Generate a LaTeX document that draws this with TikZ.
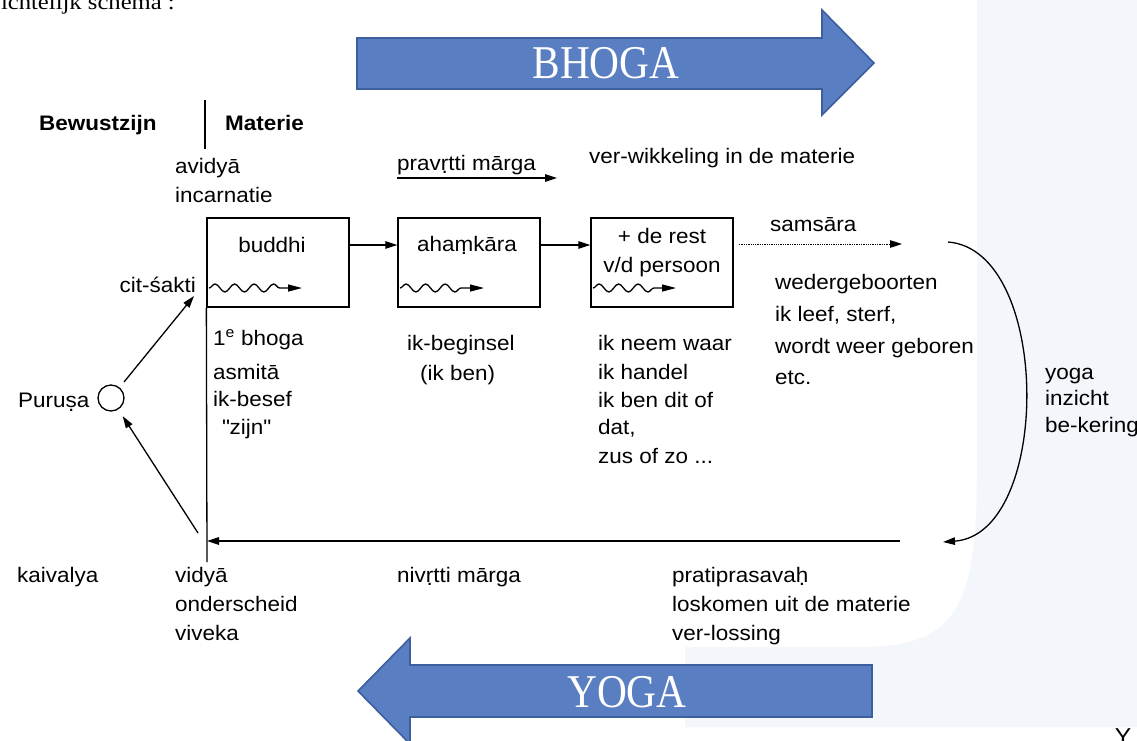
\documentclass[tikz,border=0pt]{standalone}
\usepackage{fontspec}
\setmainfont{Liberation Sans}[FakeStretch=1.07]
\newfontfamily\bigserif{Liberation Serif}[FakeStretch=0.88]
\newfontfamily\titleserif{Liberation Serif}[FakeStretch=1.12]
\usetikzlibrary{arrows.meta,decorations.pathmorphing}
\definecolor{bgblue}{HTML}{F3F6FA}
\definecolor{fatblue}{HTML}{5A7EC2}
\definecolor{fatedge}{HTML}{3D5F9E}
\makeatletter
\newcommand\db[1]{\leavevmode\vtop{\baselineskip\z@skip\lineskip1.6pt\lineskiplimit\z@\ialign{##\crcr#1\crcr\hidewidth.\hidewidth\crcr}}}
\makeatother
\newcommand\sq{{\XeTeXglyph\XeTeXglyphindex "quotedbl" \relax}}
\begin{document}
\begin{tikzpicture}[x=1pt,y=-1pt,
  txt/.style={inner sep=0pt, anchor=base west, font=\fontsize{21}{29}\selectfont},
  ctxt/.style={txt, anchor=base},
  btxt/.style={txt, font=\fontsize{21}{29}\selectfont\bfseries},
  ln/.style={line width=1.3pt},
  arr/.style={ln, -{Triangle[length=12pt,width=7.5pt]}},
  box/.style={draw, ln, minimum width=142pt, minimum height=89pt, inner sep=0pt},
  wavy/.style={ln, -{Triangle[length=14pt,width=7pt]}, decorate, decoration={snake, amplitude=4pt, segment length=19.5pt, post length=14pt}},
  fat/.style={fill=fatblue, draw=fatedge, line width=1.6pt},
  bigtxt/.style={inner sep=0pt, text=white, font=\bigserif\fontsize{47}{47}\selectfont}]
\useasboundingbox (0,0) rectangle (1137,740);
\fill[white] (0,0) rectangle (1137,740);
\fill[bgblue] (977,0) -- (977,470) .. controls (977,610) and (955,647) .. (860,647) -- (685,647) -- (685,727) -- (1137,727) -- (1137,0) -- cycle;

% title (cut off at top)
\node[inner sep=0pt, anchor=base east, font=\titleserif\fontsize{22}{22}\selectfont] (title) at (175,9) {ichtelijk schema :};

% fat arrows
\filldraw[fat] (357,38) -- (822,38) -- (822,10) -- (874,63) -- (822,115) -- (822,89) -- (357,89) -- cycle;
\node[bigtxt] (bhoga) at (606,63.5) {BHOGA};
\filldraw[fat] (872,665) -- (410,665) -- (410,638) -- (358,691) -- (410,744) -- (410,717) -- (872,717) -- cycle;
\node[bigtxt] (yogaarrow) at (627,692) {YOGA};

% header
\node[btxt] (bew) at (39,130) {Bewustzijn};
\node[btxt] (mat) at (225,130) {Materie};
\coordinate (sepA) at (205,100);
\coordinate (sepB) at (205,149);
\draw[ln] (sepA) -- (sepB);

\node[txt] (avid) at (175,173) {avidyā};
\node[txt] (inc) at (175,202) {incarnatie};
\node[txt] (prav) at (397,170) {prav\db{r}tti mārga};
\coordinate (pA) at (397,178);
\coordinate (pB) at (557,178);
\draw[arr] (pA) -- (pB);
\node[txt] (verw) at (589,163) {ver-wikkeling in de materie};

% boxes
\node[box] (b1) at (278,262.5) {};
\node[box] (b2) at (469,262.5) {};
\node[box] (b3) at (662,262.5) {};
\node[ctxt] (t1) at (272,252) {buddhi};
\node[ctxt] (t2) at (467,251) {aha\db{m}kāra};
\node[ctxt] (t3a) at (662,243) {+ de rest};
\node[ctxt] (t3b) at (662,272) {v/d persoon};
\draw[arr] ([yshift=17.5pt]b1.east) -- ([yshift=17.5pt]b2.west);
\draw[arr] ([yshift=17.5pt]b2.east) -- ([yshift=17.5pt]b3.west);

\coordinate (w1a) at (209,288); \coordinate (w1b) at (302,288);
\coordinate (w2a) at (400,288); \coordinate (w2b) at (484,288);
\coordinate (w3a) at (593,288); \coordinate (w3b) at (676,288);
\draw[wavy] (w1a) -- (w1b);
\draw[wavy] (w2a) -- (w2b);
\draw[wavy] (w3a) -- (w3b);

% samsara
\coordinate (sA) at (739,244);
\coordinate (sB) at (902,244);
\draw[arr, densely dotted, line width=1pt] (sA) -- (sB);
\node[txt] (sams) at (770,231) {samsāra};
\node[txt] (weder) at (775,289) {wedergeboorten};
\node[txt] (leef1) at (775,321) {ik leef, sterf,};
\node[txt] (leef2) at (775,353) {wordt weer geboren};
\node[txt] (leef3) at (775,384) {etc.};

% curve back
\coordinate (cA) at (948,242);
\coordinate (cB) at (943,542);
\draw[arr] (cA) .. controls (1052,250) and (1052,534) .. (cB);
\node[txt] (yg1) at (1045,379) {yoga};
\node[txt] (yg2) at (1045,405) {inzicht};
\node[txt] (yg3) at (1045,432) {be-kering};

% bottom line
\coordinate (bR) at (900,541);
\coordinate (bL) at (207,541);
\draw[arr] (bR) -- (bL);
\coordinate (vB) at (207,562);
\draw[ln] (b1.south west) -- (vB);

% purusa
\node[circle, draw, ln, minimum size=26pt, inner sep=0pt] (pur) at (111,398) {};
\node[txt] (purt) at (18,407) {Puru\db{s}a};
\coordinate (cs) at (194,296);
\draw[arr, shorten <=7pt] (pur) -- (cs);
\node[txt, anchor=base east] (cit) at (196,292) {cit-śakti};
\coordinate (la) at (198,533);
\draw[arr, shorten >=8pt] (la) -- (pur);

% column texts
\node[txt] (c1a) at (213,345) {1\textsuperscript{e} bhoga};
\node[txt] (c1b) at (213,379) {asmitā};
\node[txt] (c1c) at (213,406) {ik-besef};
\node[txt] (c1d) at (222,434) {\sq zijn\sq};
\node[txt] (c2a) at (407,350) {ik-beginsel};
\node[txt] (c2b) at (420,380) {(ik ben)};
\node[txt] (c3a) at (598,350) {ik neem waar};
\node[txt] (c3b) at (598,379) {ik handel};
\node[txt] (c3c) at (598,407) {ik ben dit of};
\node[txt] (c3d) at (598,434) {dat,};
\node[txt] (c3e) at (598,463) {zus of zo ...};

% bottom texts
\node[txt] (kai) at (17,582) {kaivalya};
\node[txt] (vid1) at (175,582) {vidyā};
\node[txt] (vid2) at (175,611) {onderscheid};
\node[txt] (vid3) at (175,640) {viveka};
\node[txt] (niv) at (397,582) {niv\db{r}tti mārga};
\node[txt] (pra1) at (672,582) {pratiprasava\db{h}};
\node[txt] (pra2) at (672,611) {loskomen uit de materie};
\node[txt] (pra3) at (672,640) {ver-lossing};

\node[inner sep=0pt, anchor=base, font=\fontsize{23}{23}\selectfont] (ycut) at (1123,744) {Y};
\end{tikzpicture}
\end{document}
